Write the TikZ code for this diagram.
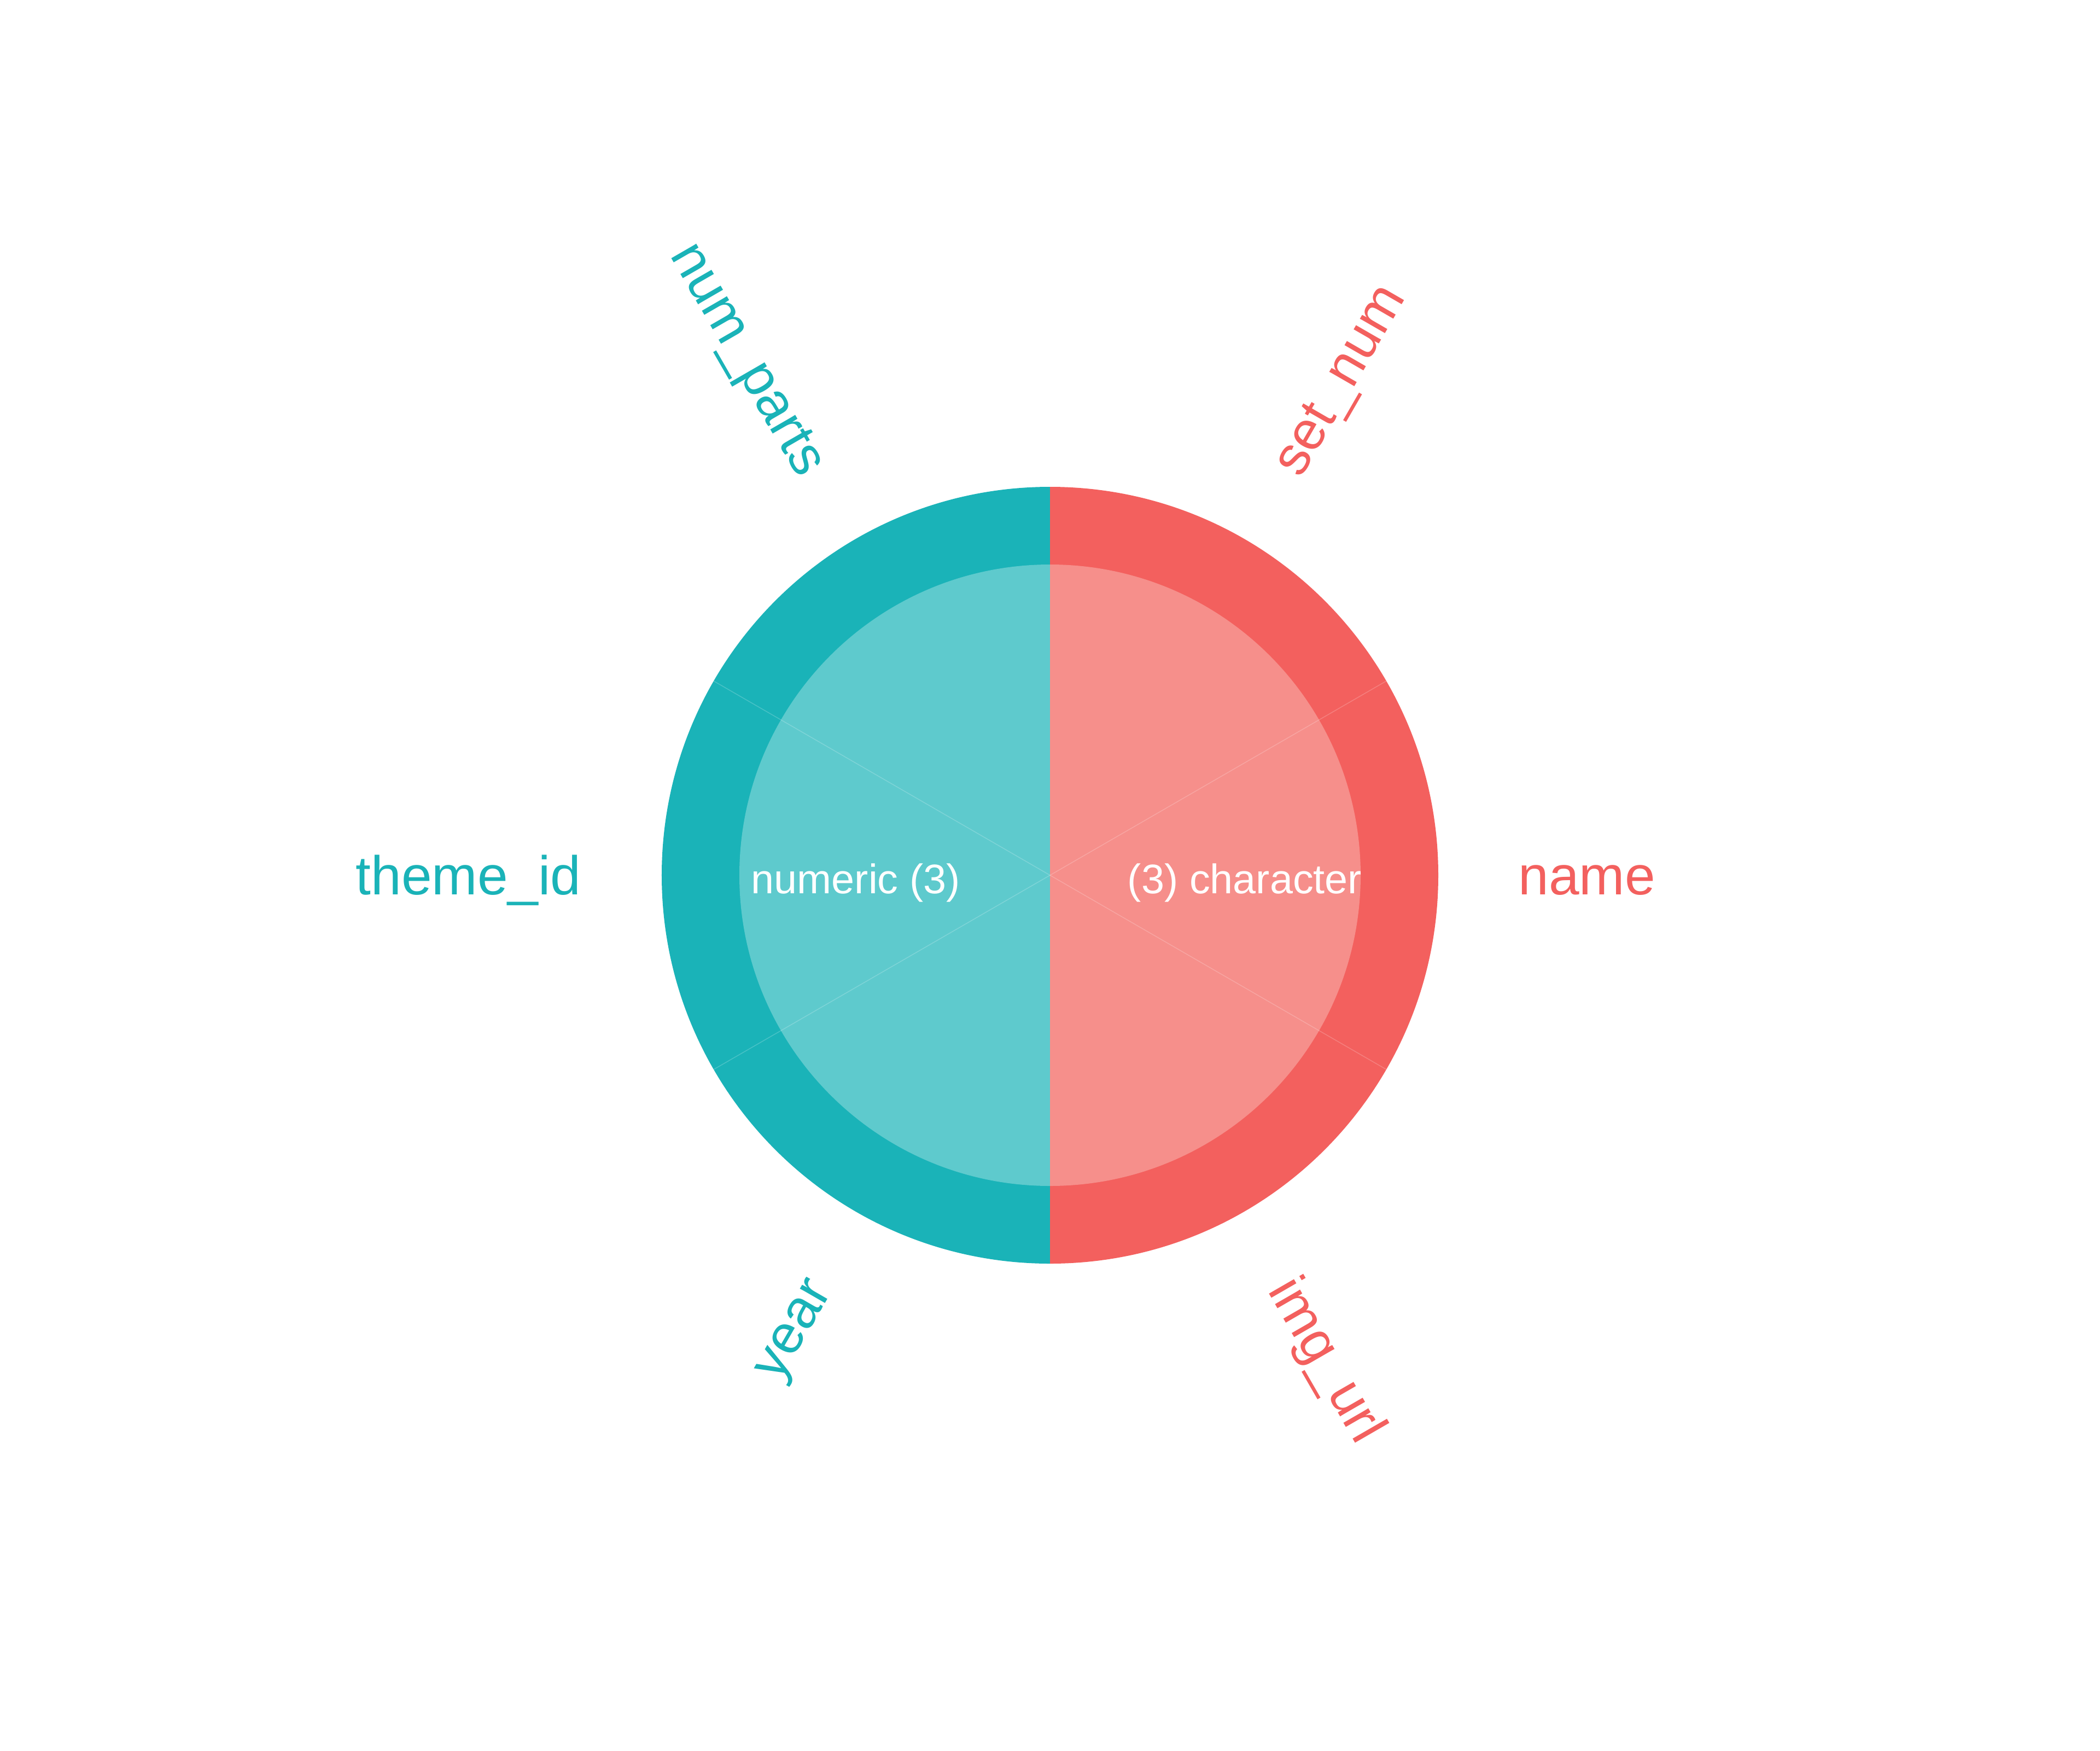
\documentclass[tikz,border=0pt]{standalone}
\usepackage{fontspec}
\usetikzlibrary{calc}
\setmainfont{Liberation Sans}
\definecolor{tealout}{RGB}{26,179,184}
\definecolor{tealin}{RGB}{94,202,205}
\definecolor{redout}{RGB}{243,96,94}
\definecolor{redin}{RGB}{246,143,139}
\tikzset{
  outerlab/.style={inner sep=0pt, font=\fontsize{28.45}{34}\selectfont},
  innerlab/.style={inner sep=0pt, text=white, font=\fontsize{21.5}{26}\selectfont},
  seam/.style={white, opacity=0.2, line width=0.015cm}
}
\begin{document}
\begin{tikzpicture}
\useasboundingbox (-19.2,-16) rectangle (19.2,16);
\fill[white] (-19.2,-16) rectangle (19.2,16);
% outer ring
\fill[tealout] (90:7.10) arc[start angle=90,end angle=270,radius=7.10cm] -- cycle;
\fill[redout] (-90:7.10) arc[start angle=-90,end angle=90,radius=7.10cm] -- cycle;
% inner disk
\fill[tealin] (90:5.68) arc[start angle=90,end angle=270,radius=5.68cm] -- cycle;
\fill[redin] (-90:5.68) arc[start angle=-90,end angle=90,radius=5.68cm] -- cycle;
% seams
\coordinate (c) at (0,0);
\foreach \a in {30,150,-30,-150} {
  \coordinate (s\a) at (\a:7.10);
  \draw[seam] (c) -- (s\a);
}
% inner labels
\node[innerlab, anchor=mid] (numeric) at ($(180:3.55)+(-90:0.24)$) {numeric (3)};
\node[innerlab, anchor=mid] (character) at ($(0:3.56)+(-90:0.24)$) {(3) character};
% outer labels
\node[outerlab, text=redout, anchor=mid west] (name) at ($(0:8.56)+(-90:0.26)$) {name};
\node[outerlab, text=tealout, anchor=mid east] (themeid) at ($(180:8.57)+(-90:0.26)$) {theme\_id};
\node[outerlab, text=redout, anchor=mid west, rotate=60] (setnum) at ($(60:8.56)+(-30:0.26)$) {set\_num};
\node[outerlab, text=tealout, anchor=mid east, rotate=-60] (numparts) at ($(120:8.56)+(-150:0.26)$) {num\_parts};
\node[outerlab, text=tealout, anchor=mid east, rotate=60] (year) at ($(-120:8.56)+(-30:0.26)$) {year};
\node[outerlab, text=redout, anchor=mid west, rotate=-60] (imgurl) at ($(-60:8.56)+(-150:0.26)$) {img\_url};
\end{tikzpicture}
\end{document}
